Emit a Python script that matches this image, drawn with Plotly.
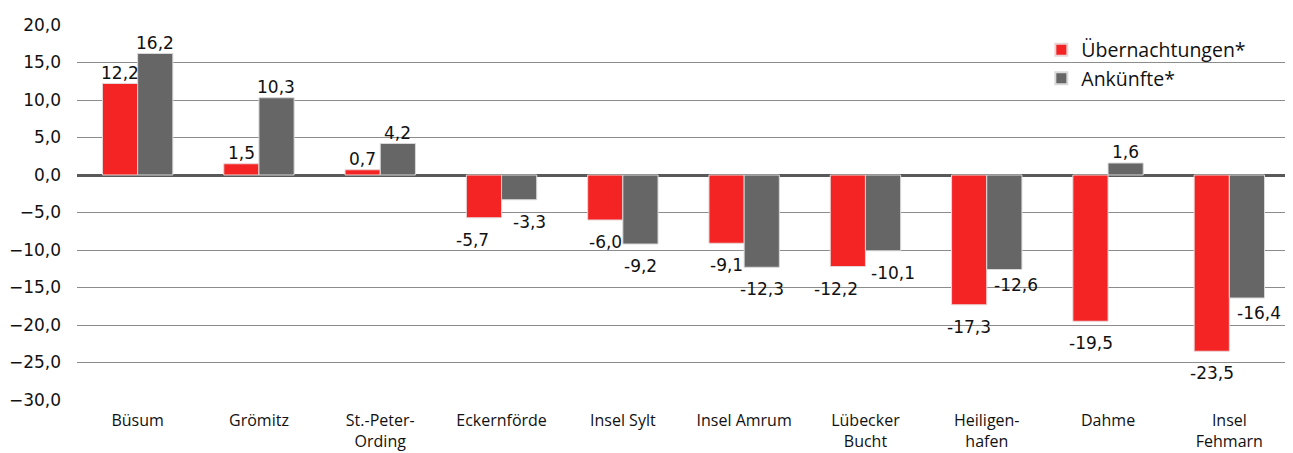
import plotly.graph_objects as go

categories = ["Büsum", "Grömitz", "St.-Peter-<br>Ording", "Eckernförde", "Insel Sylt",
              "Insel Amrum", "Lübecker<br>Bucht", "Heiligen-<br>hafen", "Dahme", "Insel<br>Fehmarn"]
uebernachtungen = [12.2, 1.5, 0.7, -5.7, -6.0, -9.1, -12.2, -17.3, -19.5, -23.5]
ankuenfte = [16.2, 10.3, 4.2, -3.3, -9.2, -12.3, -10.1, -12.6, 1.6, -16.4]
y_ticks = [20, 15, 10, 5, 0, -5, -10, -15, -20, -25, -30]

RED = "#F52424"
GRAY = "#666666"
LABEL_FONT = dict(family="DejaVu Sans", size=17, color="#111")


def fmt(v):
    return f"{v:.1f}".replace(".", ",")


fig = go.Figure()
fig.add_trace(go.Bar(
    x=categories, y=uebernachtungen, name="Übernachtungen*",
    marker=dict(color=RED, line=dict(color="#e8d6d6", width=1)),
))
fig.add_trace(go.Bar(
    x=categories, y=ankuenfte, name="Ankünfte*",
    marker=dict(color=GRAY, line=dict(color="#d9d9d9", width=1)),
))

# value labels placed via axis coordinates (outside end of each bar)
for cat, r, g in zip(categories, uebernachtungen, ankuenfte):
    close = r < 0 and g < 0 and abs(r - g) < 3
    # red label
    rdx = -17.5 - (12 if close else 0)
    fig.add_annotation(x=cat, y=r, text=fmt(r), showarrow=False, font=LABEL_FONT,
                       xshift=rdx, yanchor="bottom" if r >= 0 else "top",
                       yshift=-1 if r >= 0 else -10)
    # gray label
    gdx = 17.5
    gdy = -1 if g >= 0 else -10
    if close:
        gdx += 10
    elif g < 0 and r < g:
        gdx += 12
        gdy = -3
    fig.add_annotation(x=cat, y=g, text=fmt(g), showarrow=False, font=LABEL_FONT,
                       xshift=gdx, yanchor="bottom" if g >= 0 else "top", yshift=gdy)

fig.update_layout(
    width=1285, height=445,
    margin=dict(l=69, r=3, t=17, b=53),
    paper_bgcolor="white", plot_bgcolor="white",
    separators=",.",
    barmode="group", bargap=0.42, bargroupgap=0,
    showlegend=True,
    legend=dict(x=0.795, y=0.985, xanchor="left", yanchor="top",
                bgcolor="rgba(0,0,0,0)", font=dict(family="Open Sans", size=19.5, color="#111"),
                itemsizing="constant", tracegroupgap=0),
    font=dict(family="DejaVu Sans", color="#111"),
)
fig.update_xaxes(
    showgrid=False, showline=False, ticks="", automargin=False,
    tickfont=dict(family="Open Sans", size=16, color="#111"),
    tickangle=0, ticklabelstandoff=9,
)
fig.update_yaxes(
    range=[-30, 20], tickvals=y_ticks, tickformat=".1f",
    showgrid=True, gridcolor="#8c8c8c", gridwidth=1,
    zeroline=True, zerolinecolor="#595959", zerolinewidth=3,
    showline=False, ticks="", ticklabelstandoff=15, automargin=False,
    tickfont=dict(family="DejaVu Sans", size=17, color="#111"),
)

fig.write_html("out.html")
